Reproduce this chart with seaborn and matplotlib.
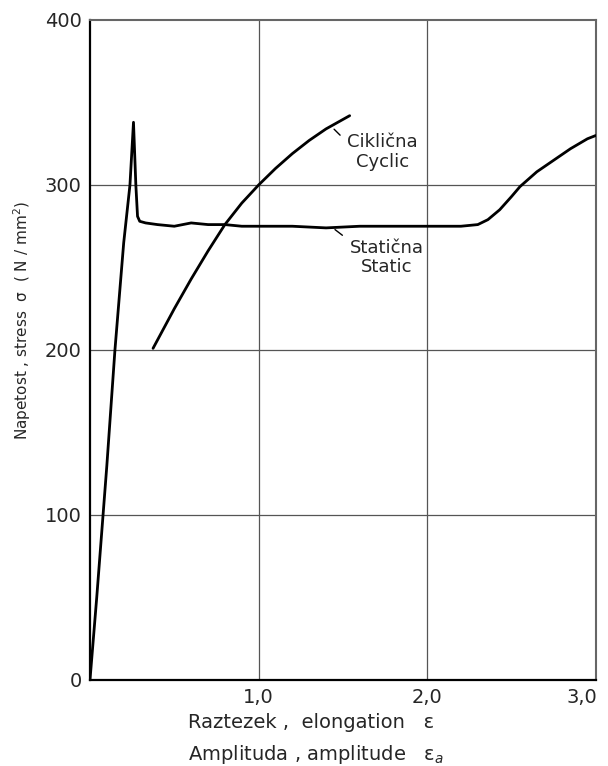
import matplotlib
matplotlib.use("Agg")
import matplotlib.pyplot as plt
import matplotlib.transforms as mtransforms
import seaborn as sns

# static tensile curve (elongation %, stress N/mm2)
static_x = [0.0, 0.04, 0.10, 0.148, 0.20, 0.237, 0.258, 0.272, 0.282, 0.295, 0.33, 0.40,
            0.50, 0.60, 0.70, 0.80, 0.90, 1.00, 1.20, 1.40, 1.60, 1.80, 2.00, 2.20,
            2.30, 2.36, 2.43, 2.50, 2.55, 2.65, 2.75, 2.85, 2.95, 3.00]
static_y = [0, 50, 130, 200, 265, 300, 338, 300, 281, 278, 277, 276,
            275, 277, 276, 276, 275, 275, 275, 274, 275, 275, 275, 275,
            276, 279, 285, 293, 299, 308, 315, 322, 328, 330]

# cyclic stress-strain curve (amplitude %, stress N/mm2)
cyclic_x = [0.374, 0.50, 0.60, 0.70, 0.80, 0.90, 1.00, 1.10, 1.20, 1.30, 1.40, 1.54]
cyclic_y = [201, 225, 243, 260, 276, 289, 300, 310, 319, 327, 334, 342]

x_ticks = [1.0, 2.0, 3.0]
x_ticklabels = ["1,0", "2,0", "3,0"]
y_ticks = [0, 100, 200, 300, 400]

sns.set_style("white")
plt.rcParams["font.family"] = ["DejaVu Sans"]

fig = plt.figure(figsize=(6.08, 7.66), dpi=100)
ax = fig.add_axes([0.148, 0.1123, 0.832, 0.8616])

# grid
for v in [1.0, 2.0]:
    ax.axvline(v, color="#555555", lw=0.9, zorder=1)
for v in [100, 200, 300]:
    ax.axhline(v, color="#555555", lw=0.9, zorder=1)

sns.lineplot(x=static_x, y=static_y, sort=False, estimator=None, color="black", lw=2, ax=ax, zorder=3)
sns.lineplot(x=cyclic_x, y=cyclic_y, sort=False, estimator=None, color="black", lw=2, ax=ax, zorder=3)

ax.set_xlim(0, 3.0)
ax.set_ylim(0, 400)
ax.set_xticks(x_ticks)
ax.set_xticklabels(x_ticklabels, fontsize=14)
ax.set_yticks(y_ticks)
ax.set_yticklabels([str(v) for v in y_ticks], fontsize=14)
ax.set_xticks([0.5, 1.5, 2.5], minor=True)
ax.set_yticks([50, 150, 250, 350], minor=True)
ax.tick_params(which="major", length=0, pad=6)
ax.tick_params(which="minor", direction="in", length=7, width=1, color="#444444")

# keep "3,0" inside the figure
last = ax.get_xticklabels()[-1]
last.set_transform(last.get_transform() + mtransforms.ScaledTranslation(-10 / 72, 0, fig.dpi_scale_trans))

for s in ["left", "bottom"]:
    ax.spines[s].set_color("black")
    ax.spines[s].set_linewidth(1.6)
for s in ["top", "right"]:
    ax.spines[s].set_color("#666666")
    ax.spines[s].set_linewidth(1.5)

ax.set_ylabel("Napetost , stress  σ  ( N / mm$^2$)", fontsize=11)
ax.yaxis.set_label_coords(-0.112, 0.544)
ax.set_xlabel("")

fig.text(188 / 608, 1 - 722 / 766, "Raztezek ,  elongation   ε", fontsize=14, ha="left", va="center")
fig.text(188 / 608, 1 - 755 / 766, "Amplituda , amplitude   ε$_a$", fontsize=14, ha="left", va="center")

# curve labels with leader lines
ax.annotate("", xy=(1.436, 335), xytext=(1.495, 329),
            arrowprops=dict(arrowstyle="-", color="black", lw=1))
ax.text(1.525, 320, "Ciklična\nCyclic", fontsize=13, ha="left", va="center",
        multialignment="center", linespacing=1.1)
ax.annotate("", xy=(1.44, 274), xytext=(1.51, 268.5),
            arrowprops=dict(arrowstyle="-", color="black", lw=1))
ax.text(1.54, 256, "Statična\nStatic", fontsize=13, ha="left", va="center",
        multialignment="center", linespacing=1.1)

plt.savefig("out.png", dpi=100)
plt.close()
